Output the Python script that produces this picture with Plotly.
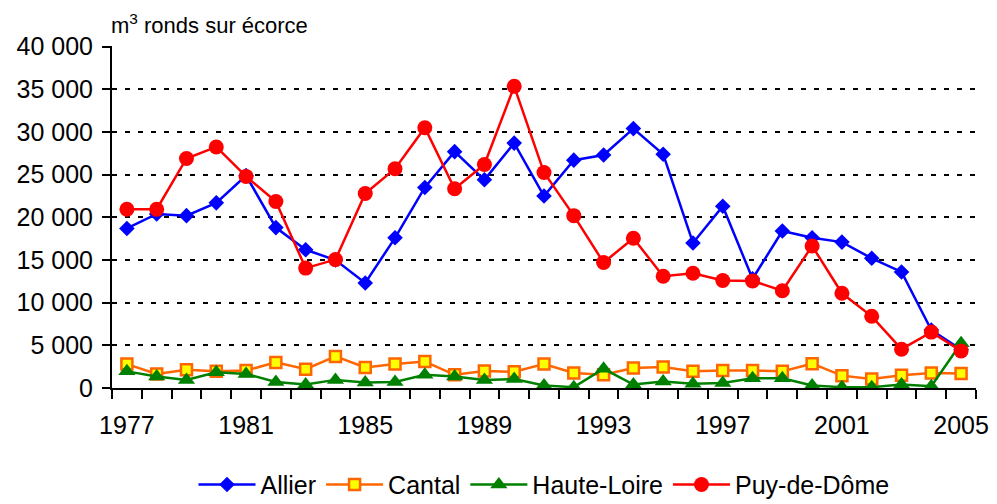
import plotly.graph_objects as go

# ===================================
# DATA (m3 ronds sur écorce)
# ===================================
years = list(range(1977, 2006))

allier = [18700, 20400, 20200, 21700, 24900, 18800, 16200, 15000, 12300, 17600,
          23500, 27700, 24400, 28700, 22500, 26700, 27300, 30400, 27400, 17000,
          21300, 12800, 18400, 17600, 17100, 15200, 13600, 6800, 4500]
cantal = [2800, 1650, 2150, 1950, 2050, 3000, 2200, 3700, 2400, 2800,
          3100, 1550, 2000, 1900, 2800, 1750, 1550, 2350, 2450, 1950,
          2050, 2050, 1950, 2850, 1450, 1050, 1500, 1750, 1700]
haute_loire = [1950, 1350, 950, 1850, 1650, 700, 400, 950, 650, 700,
               1550, 1350, 950, 1050, 300, 100, 2250, 400, 750, 500,
               600, 1150, 1150, 300, 100, 100, 400, 200, 5250]
puy_de_dome = [20950, 20950, 26900, 28250, 24800, 21850, 14050, 15050, 22800, 25700,
               30500, 23350, 26200, 35350, 25250, 20200, 14700, 17550, 13100, 13450,
               12600, 12550, 11400, 16650, 11100, 8400, 4550, 6550, 4350]

label_years = [1977, 1981, 1985, 1989, 1993, 1997, 2001, 2005]
y_ticks = [0, 5000, 10000, 15000, 20000, 25000, 30000, 35000, 40000]

FONT = "Liberation Sans, Arial, sans-serif"

# ===================================
# FIGURE
# (page body keeps its default 8px margin, so the figure is 8px smaller)
# ===================================
fig = go.Figure()

fig.add_trace(go.Scatter(
    x=years, y=allier, name="Allier", mode="lines+markers",
    line=dict(color="#0000FF", width=2.5),
    marker=dict(symbol="diamond", size=12, color="#0000FF")
))
fig.add_trace(go.Scatter(
    x=years, y=cantal, name="Cantal", mode="lines+markers",
    line=dict(color="#FF6600", width=2.5),
    marker=dict(symbol="square", size=11, color="#FFFF00", line=dict(color="#FF6600", width=2.5))
))
fig.add_trace(go.Scatter(
    x=years, y=haute_loire, name="Haute-Loire", mode="lines+markers",
    line=dict(color="#008000", width=2.5),
    marker=dict(symbol="triangle-up", size=15, color="#008000")
))
fig.add_trace(go.Scatter(
    x=years, y=puy_de_dome, name="Puy-de-Dôme", mode="lines+markers",
    line=dict(color="#FF0000", width=2.5),
    marker=dict(symbol="circle", size=15, color="#FF0000")
))

fig.update_layout(
    width=989, height=496,
    margin=dict(l=104, r=21, t=38, b=116, autoexpand=False),
    paper_bgcolor="white", plot_bgcolor="white",
    font=dict(family=FONT, size=25, color="black"),
    separators=", ",
    legend=dict(orientation="h", x=0.5, xanchor="center", y=-0.35, yanchor="bottom",
                font=dict(size=25), itemwidth=57, tracegroupgap=0),
    annotations=[dict(
        text="m<sup>3</sup> ronds sur écorce", xref="paper", yref="paper",
        x=-0.003, y=1.065, xanchor="left", yanchor="middle", showarrow=False,
        font=dict(size=22)
    )]
)

fig.update_xaxes(
    range=[1976.5, 2005.5], tickmode="array", tickvals=label_years,
    ticktext=[str(v) for v in label_years], ticks="", ticklabelstandoff=14,
    showline=True, linecolor="black", linewidth=2, showgrid=False, zeroline=False,
    automargin=False,
    minor=dict(tickmode="linear", tick0=1976.5, dtick=1, ticks="outside",
               ticklen=9, tickwidth=2, tickcolor="black", showgrid=False)
)
fig.update_yaxes(
    range=[0, 40080], tickmode="array", tickvals=y_ticks, tickformat=",d",
    ticks="outside", ticklen=8, tickwidth=2, tickcolor="black", ticklabelstandoff=4,
    showline=True, linecolor="black", linewidth=2, zeroline=False, automargin=False,
    showgrid=True, gridcolor="black", gridwidth=2, griddash="5px,8px"
)

fig.write_html("out.html")
